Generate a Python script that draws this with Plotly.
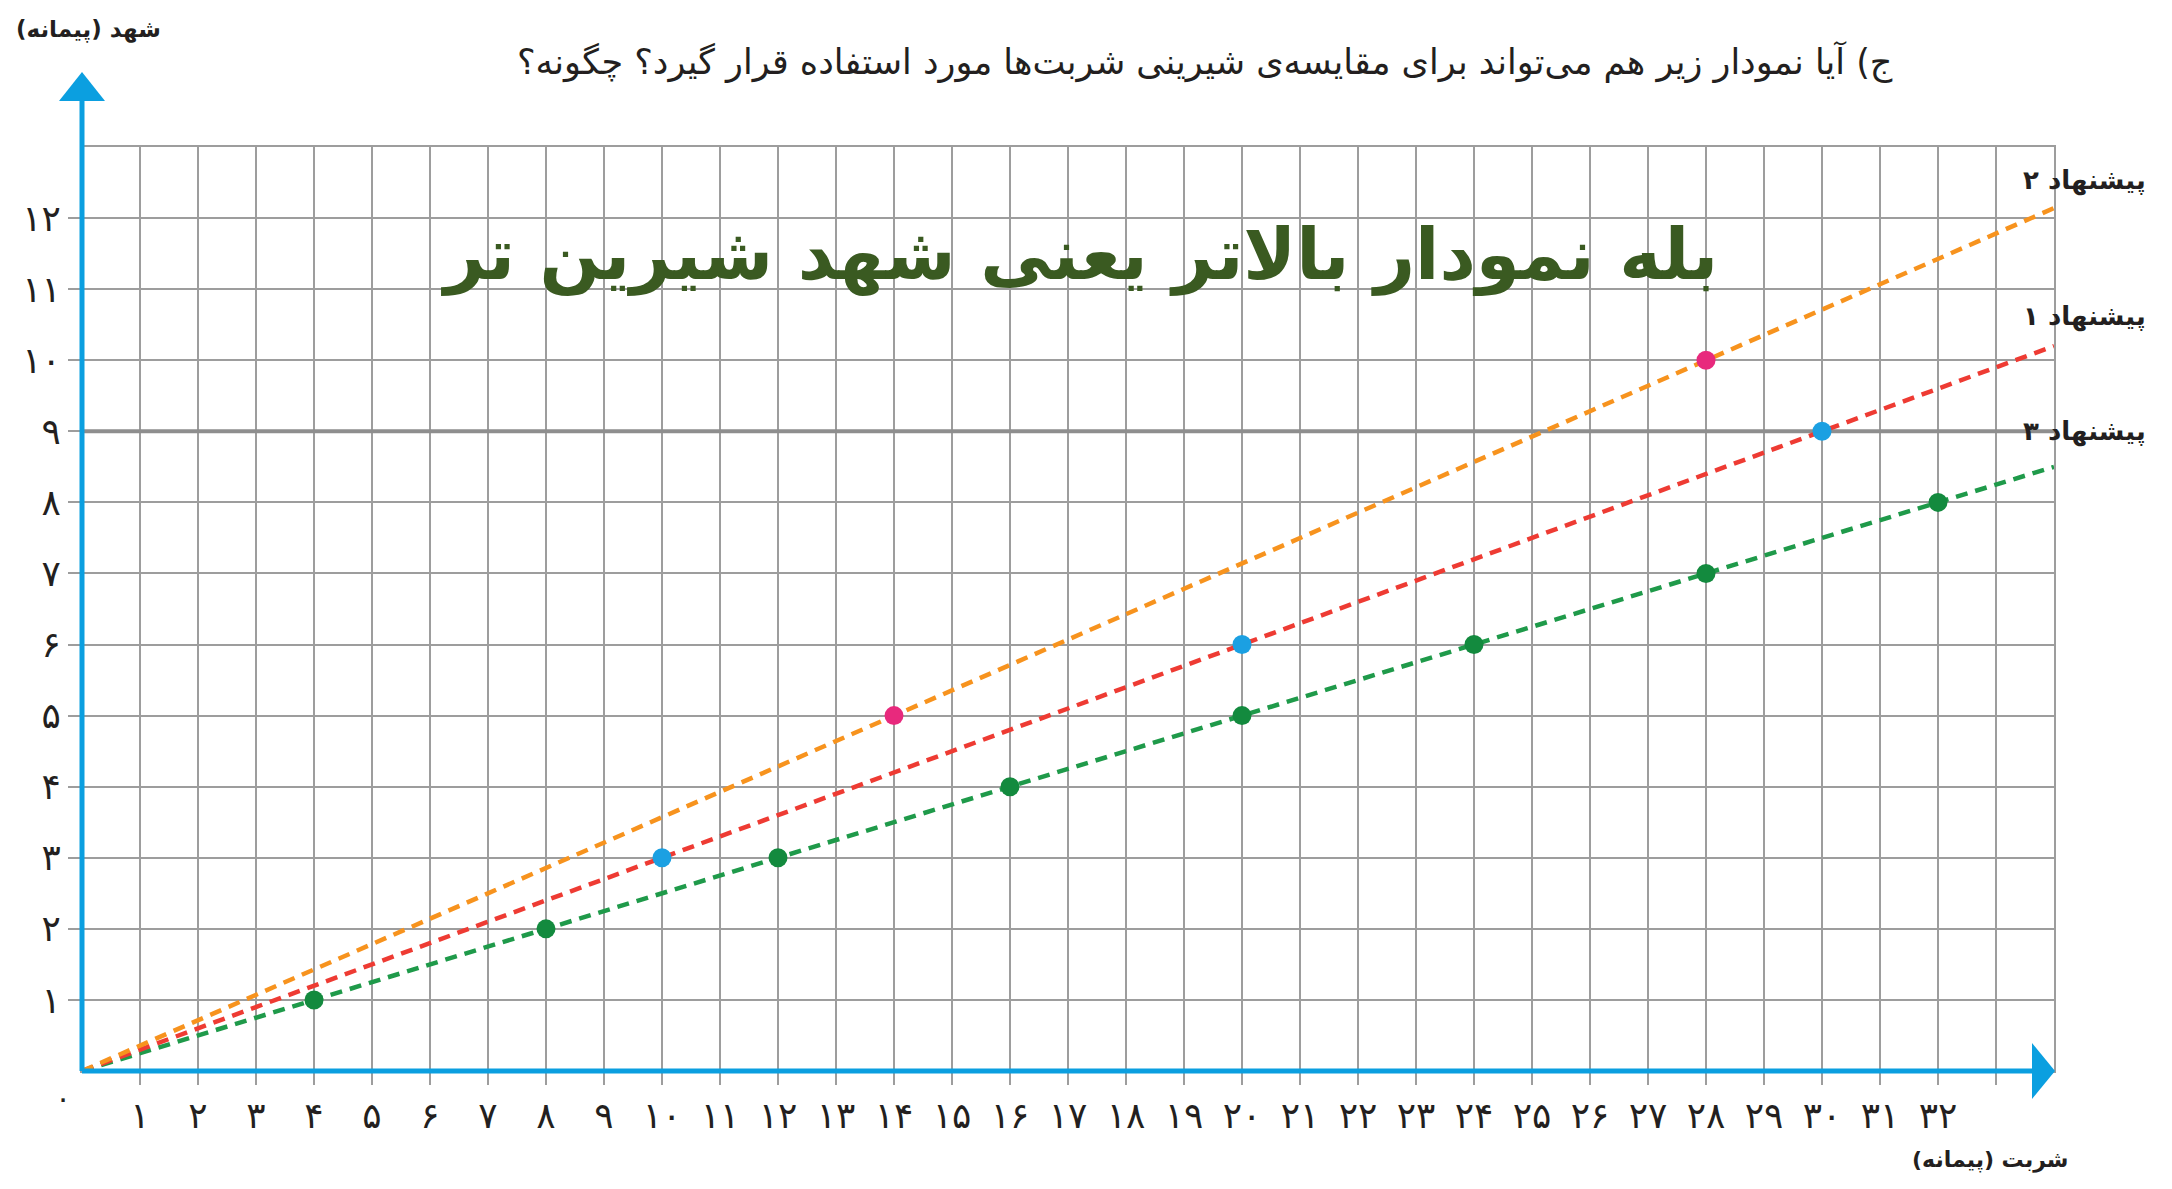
import plotly.graph_objects as go

# ---------------- data ----------------
x_tick_vals = list(range(1, 34))
x_tick_text = ["۱", "۲", "۳", "۴", "۵", "۶", "۷", "۸", "۹", "۱۰",
               "۱۱", "۱۲", "۱۳", "۱۴", "۱۵", "۱۶", "۱۷", "۱۸", "۱۹", "۲۰",
               "۲۱", "۲۲", "۲۳", "۲۴", "۲۵", "۲۶", "۲۷", "۲۸", "۲۹", "۳۰",
               "۳۱", "۳۲", ""]
y_tick_vals = list(range(1, 13))
y_tick_text = ["۱", "۲", "۳", "۴", "۵", "۶", "۷", "۸", "۹", "۱۰", "۱۱", "۱۲"]

line_x = [0, 34]
sugg2_y = [0, 12.14]      # orange  (پیشنهاد ۲)
sugg1_y = [0, 10.2]       # red     (پیشنهاد ۱)
green_line_y = [0, 8.5]   # green
sugg3_y = [9, 9]          # gray horizontal (پیشنهاد ۳)

pink_x = [14, 28]
pink_y = [5, 10]
blue_x = [10, 20, 30]
blue_y = [3, 6, 9]
green_x = [4, 8, 12, 16, 20, 24, 28, 32]
green_y = [1, 2, 3, 4, 5, 6, 7, 8]

RLM = "\u200f"
title_text = "ج) آیا نمودار زیر هم می‌تواند برای مقایسه‌ی شیرینی شربت‌ها مورد استفاده قرار گیرد؟ چگونه؟"
answer_text = "بله نمودار بالاتر یعنی شهد شیرین تر"
y_title = "شهد (پیمانه)"
x_title = "شربت (پیمانه)"
right_labels = ["پیشنهاد ۲", "پیشنهاد ۱", "پیشنهاد ۳"]
right_label_y = [12.53, 10.62, 9.0]

# ---------------- style ----------------
BODY = 8                      # default page body margin
W, H = 2172 - BODY, 1189 - BODY
ML, MR, MT, MB = 82 - BODY, 118, 147 - BODY, 118
PW, PH = W - ML - MR, H - MT - MB
FONT = "DejaVu Sans"
TXT = "#231f20"
GRID = "#9d9d9d"
BLUE = "#0b9fe0"

# screen pixel (in the 2172x1189 window) -> paper coordinate
def px_x(p):
    return (p - BODY - ML) / PW

def px_y(p):
    return (BODY + H - MB - p) / PH

fig = go.Figure()

fig.add_trace(go.Scatter(x=line_x, y=sugg3_y, mode="lines",
                         line=dict(color="#8e8e8e", width=4), hoverinfo="skip"))
for ys, col in [(green_line_y, "#1f9a4a"), (sugg1_y, "#ee3b33"), (sugg2_y, "#f7931e")]:
    fig.add_trace(go.Scatter(x=line_x, y=ys, mode="lines",
                             line=dict(color=col, width=4.5, dash="12px,8px")))

fig.add_trace(go.Scatter(x=green_x, y=green_y, mode="markers",
                         marker=dict(color="#138a3e", size=19), cliponaxis=False))
fig.add_trace(go.Scatter(x=blue_x, y=blue_y, mode="markers",
                         marker=dict(color="#1ba0e2", size=19), cliponaxis=False))
fig.add_trace(go.Scatter(x=pink_x, y=pink_y, mode="markers",
                         marker=dict(color="#e8297d", size=19), cliponaxis=False))

axis_common = dict(showgrid=True, gridcolor=GRID, gridwidth=2, zeroline=False,
                   showline=True, mirror=True, linecolor=GRID, linewidth=2,
                   ticks="outside", ticklen=12, tickwidth=2, tickcolor=GRID,
                   tickfont=dict(family=FONT, size=36, color=TXT), fixedrange=True)

fig.update_xaxes(range=[0, 34], tickvals=x_tick_vals, ticktext=x_tick_text,
                 ticklabelstandoff=0, **axis_common)
fig.update_yaxes(range=[0, 13], tickvals=y_tick_vals, ticktext=y_tick_text,
                 ticklabelstandoff=0, **axis_common)

shapes = [
    # y axis
    dict(type="line", xref="paper", yref="paper", x0=0, x1=0, y0=0, y1=px_y(100),
         line=dict(color=BLUE, width=5), layer="above"),
    dict(type="path", xref="paper", yref="paper",
         path=f"M {px_x(59)} {px_y(101)} L {px_x(82)} {px_y(72)} L {px_x(105)} {px_y(101)} Z",
         fillcolor=BLUE, line=dict(width=0), layer="above"),
    # x axis
    dict(type="line", xref="paper", yref="paper", x0=0, x1=px_x(2034), y0=0, y1=0,
         line=dict(color=BLUE, width=5), layer="above"),
    dict(type="path", xref="paper", yref="paper",
         path=f"M {px_x(2032)} {px_y(1043)} L {px_x(2055)} {px_y(1071)} L {px_x(2032)} {px_y(1099)} Z",
         fillcolor=BLUE, line=dict(width=0), layer="above"),
]

annotations = [
    dict(text=RLM + title_text + RLM, xref="paper", yref="paper",
         x=px_x(1895), y=px_y(62), xanchor="right", yanchor="middle",
         showarrow=False, font=dict(family=FONT, size=35, color=TXT)),
    dict(text="<b>" + RLM + answer_text + RLM + "</b>", xref="paper", yref="paper",
         x=px_x(1079), y=px_y(254), xanchor="center", yanchor="middle",
         showarrow=False, font=dict(family=FONT, size=71, color="#3a5a21")),
    dict(text="<b>" + RLM + y_title + RLM + "</b>", xref="paper", yref="paper",
         x=px_x(88), y=px_y(30), xanchor="center", yanchor="middle",
         showarrow=False, font=dict(family=FONT, size=23, color=TXT)),
    dict(text="<b>" + RLM + x_title + RLM + "</b>", xref="paper", yref="paper",
         x=px_x(1990), y=px_y(1160), xanchor="center", yanchor="middle",
         showarrow=False, font=dict(family=FONT, size=22, color=TXT)),
    dict(text="۰", xref="paper", yref="paper", x=px_x(63), y=px_y(1098),
         xanchor="center", yanchor="middle", showarrow=False,
         font=dict(family=FONT, size=30, color=TXT)),
]
for lab, ly in zip(right_labels, right_label_y):
    annotations.append(dict(text="<b>" + RLM + lab + RLM + "</b>", xref="paper", yref="y",
                            x=px_x(2148), y=ly, xanchor="right", yanchor="middle",
                            showarrow=False, font=dict(family=FONT, size=26, color=TXT)))

fig.update_layout(width=W, height=H, margin=dict(l=ML, r=MR, t=MT, b=MB),
                  plot_bgcolor="white", paper_bgcolor="white", showlegend=False,
                  shapes=shapes, annotations=annotations)

fig.write_html("out.html", config={"displayModeBar": False})
